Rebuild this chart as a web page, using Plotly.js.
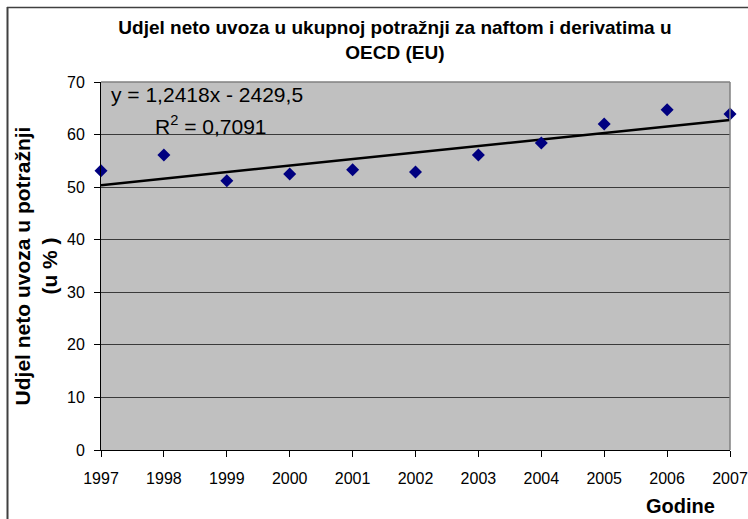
<!DOCTYPE html>
<html>
<head>
<meta charset="utf-8">
<script src="https://cdn.plot.ly/plotly-3.0.1.min.js"></script>
<style>html,body{margin:0;padding:0;background:#fff;}#chart{width:748px;height:519px;}</style>
</head>
<body>
<div id="chart"></div>
<script>
const years = [1997, 1998, 1999, 2000, 2001, 2002, 2003, 2004, 2005, 2006, 2007];
const shares = [53.1, 56.1, 51.2, 52.5, 53.3, 52.9, 56.1, 58.4, 62.0, 64.7, 63.9];
const trendSlope = 1.2418;
const trendIntercept = -2429.5;
const trendYears = [years[0], years[years.length - 1]];
const trendValues = trendYears.map(x => trendSlope * x + trendIntercept);
const yTicks = [0, 10, 20, 30, 40, 50, 60, 70];

const FONT = "Liberation Sans, Arial, sans-serif";

const traces = [
  {
    x: trendYears, y: trendValues, mode: 'lines', type: 'scatter',
    line: {color: '#000000', width: 2.5}, hoverinfo: 'skip', showlegend: false
  },
  {
    x: years, y: shares, mode: 'markers', type: 'scatter',
    marker: {symbol: 'diamond', color: '#000080', size: 10},
    showlegend: false, cliponaxis: false
  }
];

const layout = {
  width: 748, height: 519,
  margin: {l: 101, r: 18, t: 82, b: 69},
  paper_bgcolor: '#ffffff',
  plot_bgcolor: '#c0c0c0',
  font: {family: FONT, color: '#000000'},
  title: {
    text: '<b>Udjel neto uvoza u ukupnoj potražnji za naftom i derivatima u<br>OECD (EU)</b>',
    font: {family: FONT, size: 19, color: '#000000'},
    x: 0.528, xanchor: 'center', y: 0.934, yanchor: 'top'
  },
  xaxis: {
    range: [1997, 2007], tickvals: years, ticktext: years.map(String),
    showgrid: false, zeroline: false,
    showline: true, linecolor: '#000000', linewidth: 1,
    ticks: 'outside', ticklen: 6, tickcolor: '#000000',
    ticklabelstandoff: 8,
    tickfont: {family: FONT, size: 16, color: '#000000'},
    fixedrange: true
  },
  yaxis: {
    range: [0, 70], tickvals: yTicks,
    showgrid: true, gridcolor: '#3a3a3a', gridwidth: 1,
    zeroline: false,
    showline: true, linecolor: '#000000', linewidth: 1,
    ticks: 'outside', ticklen: 6, tickcolor: '#000000',
    ticklabelstandoff: 6,
    tickfont: {family: FONT, size: 16, color: '#000000'},
    title: {
      text: '<b>Udjel neto uvoza u potražnji<br>(u % )</b>',
      font: {family: FONT, size: 21, color: '#000000'},
      standoff: 3
    },
    fixedrange: true
  },
  annotations: [
    {xref: 'paper', yref: 'paper', x: 0.012, y: 1.004, xanchor: 'left', yanchor: 'top',
     text: 'y = 1,2418x - 2429,5', showarrow: false,
     font: {family: FONT, size: 21, color: '#000000'}},
    {xref: 'paper', yref: 'paper', x: 0.083, y: 0.925, xanchor: 'left', yanchor: 'top',
     text: 'R<sup>2</sup> = 0,7091', showarrow: false,
     font: {family: FONT, size: 21, color: '#000000'}},
    {xref: 'paper', yref: 'paper', x: 0.98, y: -0.118, xanchor: 'right', yanchor: 'top',
     text: '<b>Godine</b>', showarrow: false,
     font: {family: FONT, size: 20, color: '#000000'}}
  ],
  shapes: [
    {type: 'line', xref: 'paper', yref: 'paper', x0: 0, x1: 1, y0: 1, y1: 1,
     line: {color: '#808080', width: 1.5}},
    {type: 'line', xref: 'paper', yref: 'paper', x0: 1, x1: 1, y0: 0, y1: 1,
     line: {color: '#808080', width: 1.5}}
  ]
};

Plotly.newPlot('chart', traces, layout, {staticPlot: true}).then(() => {
  const svg = document.querySelector('#chart .main-svg');
  const ns = 'http://www.w3.org/2000/svg';
  const g = document.createElementNS(ns, 'g');
  const l1 = document.createElementNS(ns, 'line');
  l1.setAttribute('x1', 7.5); l1.setAttribute('y1', 7); l1.setAttribute('x2', 7.5); l1.setAttribute('y2', 519);
  l1.setAttribute('stroke', '#404040'); l1.setAttribute('stroke-width', 2);
  const l2 = document.createElementNS(ns, 'line');
  l2.setAttribute('x1', 7); l2.setAttribute('y1', 7.5); l2.setAttribute('x2', 748); l2.setAttribute('y2', 7.5);
  l2.setAttribute('stroke', '#404040'); l2.setAttribute('stroke-width', 1.5);
  g.appendChild(l1); g.appendChild(l2);
  svg.appendChild(g);
});
</script>
</body>
</html>
